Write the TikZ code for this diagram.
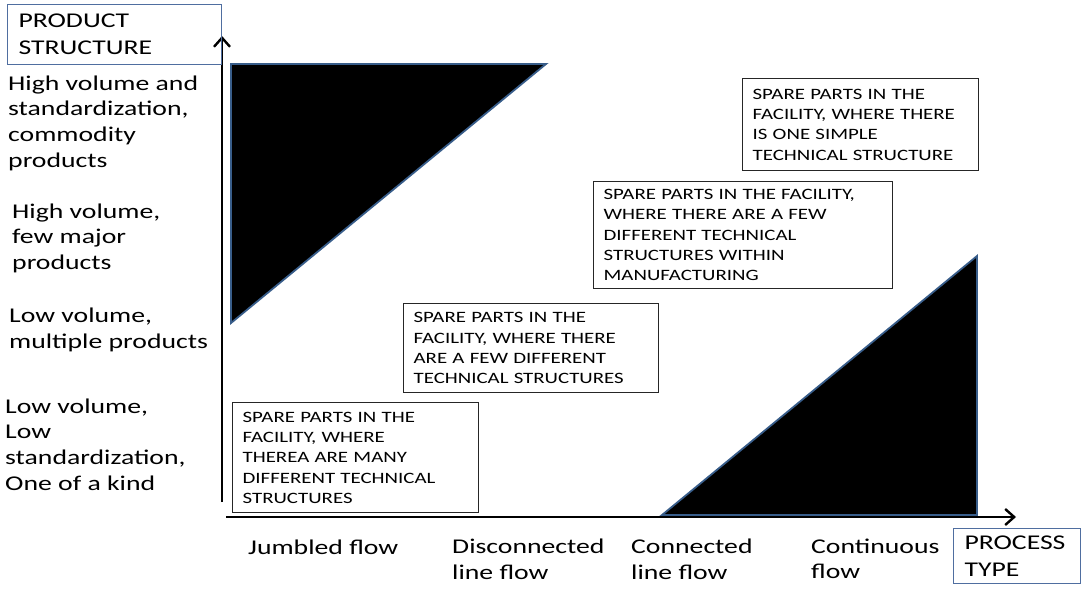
\documentclass[tikz,border=0pt]{standalone}
\usepackage{fontspec}
\setmainfont{Carlito}[FakeStretch=1.32]
\usepackage{tikz}
\usetikzlibrary{arrows.meta}

\definecolor{edgeblue}{RGB}{56,93,138}
\definecolor{labelblue}{RGB}{79,110,160}

\tikzset{
  axis/.style={line width=2.6pt, -{Straight Barb[length=9pt,width=16pt,line width=2.4pt]}},
  wedge/.style={fill=black, draw=edgeblue, line width=1.8pt, line join=miter},
  spare/.style={draw=black!85, line width=1.3pt, anchor=north west, inner xsep=10pt,
    align=left, font=\fontsize{15.8}{20.3}\selectfont},
  tag/.style={draw=labelblue, line width=1pt, anchor=north west, inner xsep=11pt,
    align=left, font=\fontsize{21}{26.5}\selectfont},
  levels/.style={anchor=west, inner sep=0pt, align=left, font=\fontsize{21}{25.6}\selectfont}
}

\begin{document}
\begin{tikzpicture}[x=1pt, y=-1pt]
        \useasboundingbox (0,0) rectangle (1086,589);

        \coordinate (O) at (222,502);
        \coordinate (Y) at (222,36);
        \coordinate (XO) at (226,517);
        \coordinate (X) at (1016,517);

        % Black wedges
        \draw[wedge] (231,64) -- (546,64) -- (231,323) -- cycle;
        \draw[wedge] (662,515) -- (977,515) -- (977,256) -- cycle;

        % Axes
        \draw[axis] (O) -- (Y);
        \draw[axis] (XO) -- (X);

        % Axis titles
        \node[tag, text width=192pt, minimum height=60pt] (prodstruct) at (7,4) {PRODUCT\\STRUCTURE};
        \node[tag, text width=105pt, minimum height=55pt] (proctype) at (953,528) {PROCESS\\TYPE};

        % Product structure levels
        \node[levels] (high1) at (8,123) {High volume and\\standardization,\\commodity\\products};
        \node[levels] (high2) at (12,238) {High volume,\\few major\\products};
        \node[levels] (low1) at (9,330) {Low volume,\\multiple products};
        \node[levels] (low2) at (5,444.5) {Low volume,\\Low\\standardization,\\One of a kind};

        % Process types
        \node[levels] (jumbled) at (248,547) {Jumbled flow};
        \node[levels] (disconn) at (452,559.5) {Disconnected\\line flow};
        \node[levels] (conn) at (631,559.5) {Connected\\line flow};
        \node[levels] (contin) at (811,559) {Continuous\\flow};

        % Spare parts boxes
        \node[spare, text width=226pt, minimum height=110pt] (many) at (232,402)
          {SPARE PARTS IN THE\\FACILITY, WHERE\\THEREA ARE MANY\\DIFFERENT TECHNICAL\\STRUCTURES};
        \node[spare, text width=235pt, minimum height=89pt] (few) at (403,303)
          {SPARE PARTS IN THE\\FACILITY, WHERE THERE\\ARE A FEW DIFFERENT\\TECHNICAL STRUCTURES};
        \node[spare, text width=279pt, minimum height=107pt] (fewmfg) at (593,181)
          {SPARE PARTS IN THE FACILITY,\\WHERE THERE ARE A FEW\\DIFFERENT TECHNICAL\\STRUCTURES WITHIN\\MANUFACTURING};
        \node[spare, text width=216pt, minimum height=92pt] (one) at (742,78)
          {SPARE PARTS IN THE\\FACILITY, WHERE THERE\\IS ONE SIMPLE\\TECHNICAL STRUCTURE};
    \end{tikzpicture}
\end{document}
